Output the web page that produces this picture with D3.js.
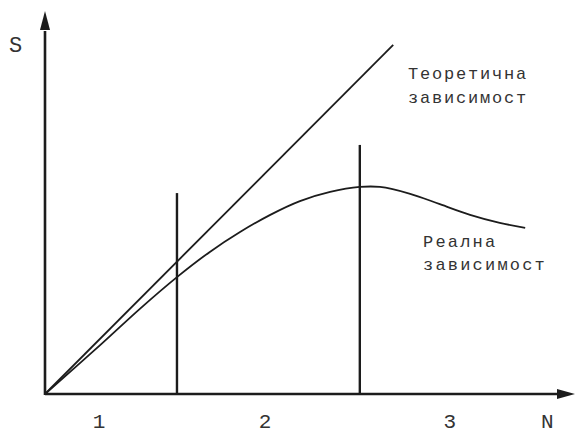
<!DOCTYPE html>
<html><head><meta charset="utf-8">
<script src="https://cdn.jsdelivr.net/npm/d3@7"></script>
<style>body{margin:0;background:#fff}svg{display:block}</style>
</head><body>
<svg id="c" width="584" height="434"></svg>
<script>
// Data (N on x, S on y, arbitrary units 0..100)
const theoretical = [[0,0],[65.7,91.4]];
const realN = [0,10.4,17.9,24.9,31.1,36.8,42.5,48.1,53.8,59.4,63.2,68.9,74.5,80.2,85.8,90.6];
const realS = [0,12.8,22.3,30.6,37.2,42.4,46.9,50.5,52.9,54.2,54.2,52.4,49.7,46.9,44.8,43.5];
const boundaries = [[24.9,52.6],[59.4,65.2]];
const regionLabels = ["1","2","3"];
const regionPos = [10.2,41.5,76.4];
const theoLabel = ["Теоретична","зависимост"];
const realLabel = ["Реална","зависимост"];

const svg = d3.select("#c");
const x = d3.scaleLinear().domain([0,100]).range([45,575]);
const y = d3.scaleLinear().domain([0,100]).range([394,12]);
const ink = "#1c1c1c";
const font = "'Liberation Mono', 'DejaVu Sans Mono', monospace";

// axes
svg.append("line").attr("x1",x(0)).attr("y1",y(0)).attr("x2",x(97)).attr("y2",y(0))
  .attr("stroke",ink).attr("stroke-width",2.6);
svg.append("line").attr("x1",x(0)).attr("y1",y(0)+1).attr("x2",x(0)).attr("y2",y(95))
  .attr("stroke",ink).attr("stroke-width",2.6);
// arrowheads
svg.append("path").attr("d",`M${x(100)},${y(0)} L${x(100)-18},${y(0)-5} L${x(100)-18},${y(0)+5} Z`).attr("fill",ink);
svg.append("path").attr("d",`M${x(0)},${y(100)-1} L${x(0)-5},${y(100)+18} L${x(0)+5},${y(100)+18} Z`).attr("fill",ink);

// boundaries
svg.selectAll("line.b").data(boundaries).join("line").attr("class","b")
  .attr("x1",d=>x(d[0])).attr("x2",d=>x(d[0])).attr("y1",y(0)).attr("y2",d=>y(d[1]))
  .attr("stroke",ink).attr("stroke-width",2.4);

// theoretical
svg.append("path").datum(theoretical)
  .attr("d",d3.line().x(d=>x(d[0])).y(d=>y(d[1])))
  .attr("fill","none").attr("stroke",ink).attr("stroke-width",1.8);

// real
const realData = realN.map((n,i)=>[n,realS[i]]);
svg.append("path").datum(realData)
  .attr("d",d3.line().x(d=>x(d[0])).y(d=>y(d[1])).curve(d3.curveCatmullRom))
  .attr("fill","none").attr("stroke",ink).attr("stroke-width",1.8);

// text
const txt = (s,px,py,size,ls)=>svg.append("text").attr("x",px).attr("y",py).text(s)
  .attr("font-family",font).attr("font-size",size).attr("letter-spacing",ls||0).attr("fill","#333");
txt(theoLabel[0],408,79,17,1.8);
txt(theoLabel[1],408,103,17,1.8);
txt(realLabel[0],423,247,17,2.2);
txt(realLabel[1],423,270,17,2.2);
txt("S",9,52,22);
txt("N",541,428,21);
svg.selectAll("text.r").data(regionLabels).join("text").attr("class","r")
  .attr("x",(d,i)=>x(regionPos[i])).attr("y",428).attr("text-anchor","middle")
  .attr("font-family",font).attr("font-size",21).attr("fill","#333").text(d=>d);
</script>
</body></html>
